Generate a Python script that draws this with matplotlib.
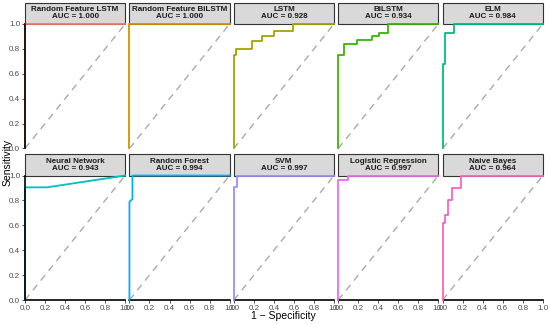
import matplotlib
matplotlib.use("Agg")
import matplotlib.pyplot as plt
from matplotlib.patches import Rectangle

plt.rcParams['font.family'] = ['Liberation Sans', 'DejaVu Sans']

# modelos, AUC y colores (paleta hue de ggplot)
modelos = ['Random Feature LSTM', 'Random Feature BiLSTM', 'LSTM', 'BiLSTM', 'ELM',
           'Neural Network', 'Random Forest', 'SVM', 'Logistic Regression', 'Naive Bayes']
auc = [1.000, 1.000, 0.928, 0.934, 0.984, 0.943, 0.994, 0.997, 0.997, 0.964]
colores = ['#F8766D', '#D89000', '#A3A500', '#39B600', '#00BF7D',
           '#00BFC4', '#00B0F6', '#9590FF', '#E76BF3', '#FF62BC']

# curvas ROC (1 - especificidad, sensibilidad)
fpr_rflstm = [0, 0, 1]
tpr_rflstm = [0, 1, 1]
fpr_rfbilstm = [0, 0, 1]
tpr_rfbilstm = [0, 1, 1]
fpr_lstm = [0, 0, 0.02, 0.02, 0.18, 0.18, 0.28, 0.28, 0.40, 0.40, 0.59, 0.59, 1]
tpr_lstm = [0, 0.75, 0.75, 0.80, 0.80, 0.86, 0.86, 0.90, 0.90, 0.94, 0.94, 1, 1]
fpr_bilstm = [0, 0, 0.06, 0.06, 0.19, 0.19, 0.34, 0.34, 0.41, 0.41, 0.50, 0.50, 1]
tpr_bilstm = [0, 0.75, 0.75, 0.84, 0.84, 0.87, 0.87, 0.90, 0.90, 0.93, 0.93, 1, 1]
fpr_elm = [0, 0, 0.023, 0.023, 0.117, 0.117, 1]
tpr_elm = [0, 0.68, 0.68, 0.93, 0.93, 1, 1]
fpr_nn = [0, 0, 0.22, 1]
tpr_nn = [0, 0.905, 0.905, 1]
fpr_rf = [0, 0, 0.03, 0.03, 1]
tpr_rf = [0, 0.79, 0.81, 1, 1]
fpr_svm = [0, 0, 0.03, 0.03, 1]
tpr_svm = [0, 0.91, 0.91, 1, 1]
fpr_lr = [0, 0, 0.097, 0.097, 1]
tpr_lr = [0, 0.96, 0.96, 1, 1]
fpr_nb = [0, 0, 0.023, 0.023, 0.053, 0.053, 0.09, 0.09, 0.183, 0.183, 1]
tpr_nb = [0, 0.62, 0.62, 0.685, 0.685, 0.805, 0.805, 0.90, 0.90, 1, 1]

curvas = [(fpr_rflstm, tpr_rflstm), (fpr_rfbilstm, tpr_rfbilstm), (fpr_lstm, tpr_lstm),
          (fpr_bilstm, tpr_bilstm), (fpr_elm, tpr_elm), (fpr_nn, tpr_nn), (fpr_rf, tpr_rf),
          (fpr_svm, tpr_svm), (fpr_lr, tpr_lr), (fpr_nb, tpr_nb)]

ticks = [0.0, 0.2, 0.4, 0.6, 0.8, 1.0]
tick_lbl = ['0.0', '0.2', '0.4', '0.6', '0.8', '1.0']

fig, axs = plt.subplots(2, 5, figsize=(5.5, 3.24), dpi=100)
fig.subplots_adjust(left=0.0455, right=0.987, bottom=0.074, top=0.926, wspace=0.0425, hspace=0.217)

for k, ax in enumerate(axs.flat):
    fila, col = divmod(k, 5)
    fx, ty = curvas[k]
    ax.plot([0, 1], [0, 1], color='#AAAAAA', lw=1.0, ls=(0, (5, 4)), zorder=1)
    ax.plot(fx, ty, color=colores[k], lw=1.3, clip_on=False, zorder=3)
    ax.set_xlim(0, 1)
    ax.set_ylim(0, 1)
    for s in ['top', 'right']:
        ax.spines[s].set_visible(False)
    ax.spines['left'].set_visible(col == 0)
    ax.spines['bottom'].set_visible(fila == 1)
    ax.spines['left'].set_linewidth(1.2)
    ax.spines['bottom'].set_linewidth(1.2)
    ax.spines['left'].set_zorder(4)
    ax.set_xticks(ticks)
    ax.set_yticks(ticks)
    ax.tick_params(length=2, width=0.6, color='#333333', labelsize=5.8,
                   labelcolor='#4D4D4D', pad=1.5)
    if col == 0:
        ax.set_yticklabels(tick_lbl)
    else:
        ax.tick_params(axis='y', left=False, labelleft=False)
    if fila == 1:
        ax.set_xticklabels(tick_lbl)
    else:
        ax.tick_params(axis='x', bottom=False, labelbottom=False)
    # cabecera gris estilo facet
    ax.add_patch(Rectangle((0, 1), 1, 0.17, transform=ax.transAxes, facecolor='#D9D9D9',
                           edgecolor='#333333', lw=0.8, clip_on=False, zorder=2))
    ax.text(0.5, 1.085, modelos[k] + '\nAUC = %.3f' % auc[k], transform=ax.transAxes,
            ha='center', va='center', fontsize=5.8, fontweight='bold', color='#1A1A1A',
            linespacing=1.0)

fig.text(0.516, 0.025, '1 \u2212 Specificity', ha='center', va='center', fontsize=7.5)
fig.text(0.014, 0.5, 'Sensitivity', ha='center', va='center', rotation=90, fontsize=7.5)

fig.savefig('out.png', dpi=100, facecolor='white')
